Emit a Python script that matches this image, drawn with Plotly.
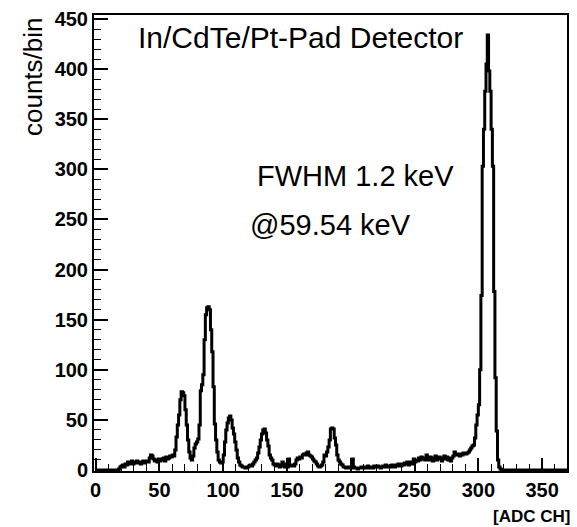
import numpy as np
import plotly.graph_objects as go

# counts per ADC channel (bin width 1), channels 0..369
counts_000_099 = [
    0, 0, 0, 0, 0, 0, 0, 0, 0, 0,
    0, 0, 0, 0, 0, 0, 0, 0, 1, 3,
    4, 5, 3, 6, 5, 8, 6, 7, 9, 6,
    8, 7, 9, 7, 8, 6, 8, 9, 7, 8,
    9, 8, 12, 15, 14, 11, 9, 10, 8, 11,
    9, 11, 10, 12, 9, 13, 11, 12, 14, 13,
    15, 14, 20, 33, 45, 55, 70, 78, 77, 74,
    60, 45, 30, 18, 12, 10, 14, 22, 26, 28,
    31, 45, 79, 85, 95, 130, 155, 162, 163, 160,
    140, 118, 83, 46, 30, 18, 10, 8, 7, 8,
]
counts_100_199 = [
    15, 28, 40, 47, 52, 54, 50, 42, 36, 28,
    20, 12, 8, 5, 4, 3, 3, 2, 2, 3,
    4, 5, 4, 6, 8, 10, 12, 17, 23, 30,
    36, 40, 41, 37, 30, 24, 15, 12, 10, 6,
    5, 4, 6, 5, 3, 4, 8, 6, 3, 4,
    3, 11, 4, 5, 5, 4, 6, 10, 12, 11,
    13, 12, 15, 16, 15, 17, 18, 15, 14, 13,
    11, 9, 8, 6, 4, 3, 4, 5, 8, 15,
    14, 18, 23, 30, 41, 42, 41, 32, 25, 15,
    10, 8, 6, 5, 3, 3, 2, 3, 2, 3,
]
counts_200_299 = [
    2, 11, 3, 2, 2, 1, 2, 2, 3, 2,
    2, 3, 2, 4, 3, 2, 3, 2, 4, 3,
    3, 4, 3, 2, 3, 4, 3, 5, 3, 4,
    4, 3, 5, 4, 3, 5, 4, 6, 5, 4,
    6, 5, 7, 6, 8, 5, 7, 8, 6, 11,
    8, 10, 9, 12, 10, 13, 11, 12, 10, 15,
    12, 10, 13, 11, 9, 12, 14, 10, 12, 13,
    11, 9, 12, 14, 11, 13, 10, 12, 9, 12,
    14, 18, 15, 16, 15, 14, 16, 15, 17, 16,
    16, 17, 18, 20, 22, 24, 25, 32, 45, 55,
]
counts_300_369 = [
    65, 100, 174, 303, 340, 378, 405, 434, 398, 378,
    340, 303, 178, 92, 39, 10, 3, 1, 0, 0,
    0, 0, 0, 0, 0, 0, 0, 0, 0, 0,
    0, 0, 0, 0, 0, 0, 0, 0, 0, 0,
    0, 0, 0, 0, 0, 0, 0, 0, 0, 0,
    0, 0, 0, 0, 0, 0, 0, 0, 0, 0,
    0, 0, 0, 0, 0, 0, 0, 0, 0, 0,
]
counts = counts_000_099 + counts_100_199 + counts_200_299 + counts_300_369

bin_width = 1
edges = np.arange(len(counts) + 1) * bin_width
yvals = counts + [counts[-1]]

x_range = [-1.3, 369.5]
y_range = [-1, 454]
x_ticks = [0, 50, 100, 150, 200, 250, 300, 350]
y_ticks = [0, 50, 100, 150, 200, 250, 300, 350, 400, 450]

fig = go.Figure()
fig.add_trace(go.Scatter(
    x=edges, y=yvals, mode="lines", line_shape="hv",
    line=dict(color="black", width=3), showlegend=False,
    hoverinfo="skip",
))

tickfont = dict(family="Liberation Sans", size=20, color="black", weight="bold")
fig.update_xaxes(
    range=x_range, tickvals=x_ticks, ticktext=[f"<b>{v}</b>" for v in x_ticks],
    ticks="inside", ticklen=13, tickwidth=1.5,
    tickcolor="black", showline=True, linewidth=2, linecolor="black", mirror=True,
    showgrid=False, zeroline=False, tickfont=tickfont,
    minor=dict(ticks="inside", ticklen=7, dtick=10, tick0=0, tickwidth=1.2, tickcolor="black", showgrid=False),
)
fig.update_yaxes(
    range=y_range, tickvals=y_ticks, ticktext=[f"<b>{v}</b>" for v in y_ticks],
    ticks="inside", ticklen=14, tickwidth=1.5,
    tickcolor="black", showline=True, linewidth=2, linecolor="black", mirror=True,
    showgrid=False, zeroline=False, tickfont=tickfont,
    minor=dict(ticks="inside", ticklen=7, dtick=10, tick0=0, tickwidth=1.2, tickcolor="black", showgrid=False),
)

fig.update_layout(
    width=577, height=527,
    margin=dict(l=94, r=8, t=10, b=56),
    paper_bgcolor="white", plot_bgcolor="white",
    font=dict(family="Liberation Sans", color="black"),
    annotations=[
        dict(text="counts/bin", xref="paper", yref="paper", x=-0.13, y=1.0,
             xanchor="center", yanchor="top", textangle=-90, showarrow=False,
             font=dict(size=26, family="Liberation Sans")),
        dict(text="<b>[ADC CH]</b>", xref="paper", yref="paper", x=1.01, y=-0.075,
             xanchor="right", yanchor="top", showarrow=False,
             font=dict(size=17, family="Liberation Sans")),
        dict(text="In/CdTe/Pt-Pad Detector", xref="paper", yref="paper", x=0.088, y=0.95,
             xanchor="left", yanchor="middle", showarrow=False,
             font=dict(size=30, family="Liberation Sans")),
        dict(text="FWHM 1.2 keV", xref="paper", yref="paper", x=0.34, y=0.648,
             xanchor="left", yanchor="middle", showarrow=False,
             font=dict(size=29, family="Liberation Sans")),
        dict(text="@59.54 keV", xref="paper", yref="paper", x=0.325, y=0.539,
             xanchor="left", yanchor="middle", showarrow=False,
             font=dict(size=29, family="Liberation Sans")),
    ],
)

fig.write_html("out.html")
